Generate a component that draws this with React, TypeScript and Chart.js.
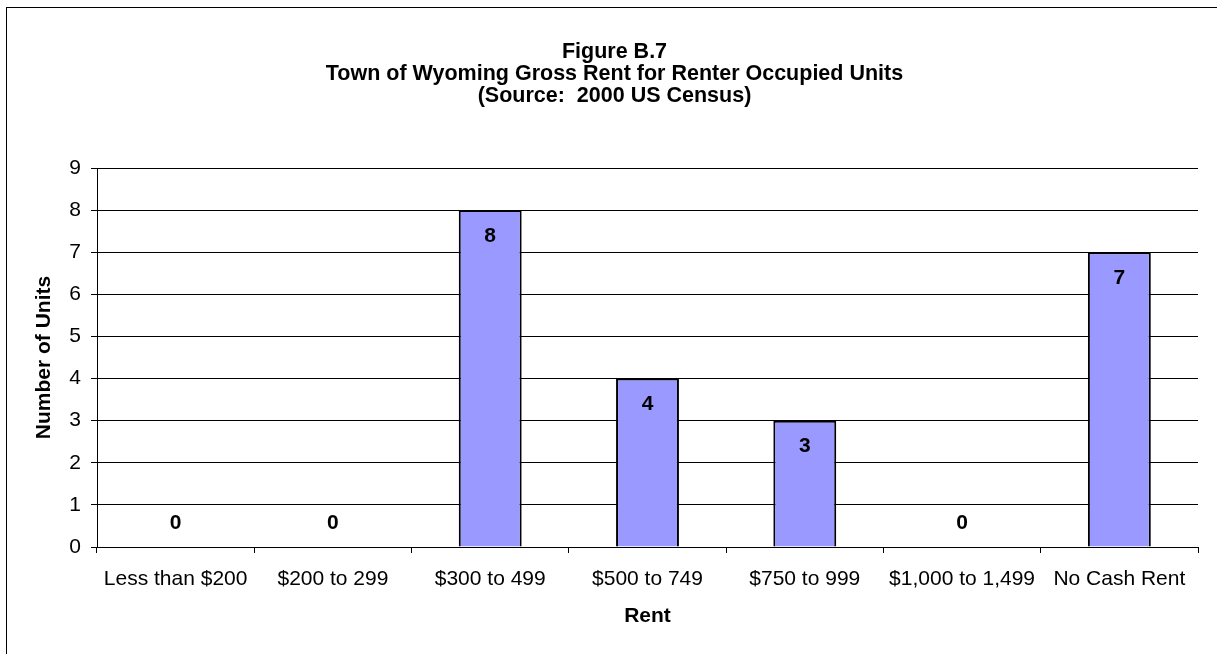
import React, { useEffect, useRef } from "react";
import { Chart, registerables } from "chart.js";

Chart.register(...registerables);

const categories = [
  "Less than $200",
  "$200 to 299",
  "$300 to 499",
  "$500 to 749",
  "$750 to 999",
  "$1,000 to 1,499",
  "No Cash Rent",
];
const units = [0, 0, 8, 4, 3, 0, 7];
const titleLines = [
  "Figure B.7",
  "Town of Wyoming Gross Rent for Renter Occupied Units",
  "(Source:  2000 US Census)",
];
const yAxisTitle = "Number of Units";
const xAxisTitle = "Rent";
const yMin = 0;
const yMax = 9;
const yStep = 1;

const FONT = "'Liberation Sans', Arial, Helvetica, sans-serif";

const titlePlugin = {
  id: "multiTitle",
  afterDraw(chart: any) {
    const ctx = chart.ctx;
    ctx.save();
    ctx.fillStyle = "#000";
    ctx.font = `bold 21.5px ${FONT}`;
    ctx.textAlign = "center";
    ctx.textBaseline = "middle";
    titleLines.forEach((line, i) => {
      ctx.fillText(line, 614.5, 52 + i * 22);
    });
    ctx.restore();
  },
};

const labelPlugin = {
  id: "barLabels",
  afterDatasetsDraw(chart: any) {
    const ctx = chart.ctx;
    const meta = chart.getDatasetMeta(0);
    const yScale = chart.scales.y;
    const base = yScale.getPixelForValue(0);
    ctx.save();
    ctx.fillStyle = "#000";
    ctx.font = `bold 21px ${FONT}`;
    ctx.textAlign = "center";
    ctx.textBaseline = "middle";
    meta.data.forEach((bar: any, i: number) => {
      const v = units[i];
      const y = v > 0 ? bar.y + 26 : base - 24;
      ctx.fillText(String(v), bar.x, y);
    });
    ctx.restore();
  },
};

export default function App() {
  const ref = useRef<HTMLCanvasElement | null>(null);
  useEffect(() => {
    if (!ref.current) return;
    Chart.defaults.font.family = FONT;
    Chart.defaults.color = "#000";
    const chart = new Chart(ref.current, {
      type: "bar",
      data: {
        labels: categories,
        datasets: [
          {
            data: units,
            backgroundColor: "#9999FF",
            borderColor: "#000000",
            borderWidth: 2,
            barPercentage: 0.4,
            categoryPercentage: 1.0,
          },
        ],
      },
      options: {
        responsive: false,
        animation: false,
        layout: { padding: { left: 32, right: 19, top: 168, bottom: 0 } },
        plugins: {
          legend: { display: false },
          title: { display: false },
          tooltip: { enabled: false },
        },
        scales: {
          x: {
            afterFit(scale: any) {
              scale.height = 107;
            },
            grid: {
              display: true,
              drawOnChartArea: false,
              drawTicks: true,
              tickLength: 6,
              color: "#000",
              lineWidth: 1,
            },
            border: { display: true, color: "#000", width: 1 },
            ticks: {
              color: "#000",
              font: { size: 21, family: FONT },
              padding: 14,
              autoSkip: false,
              maxRotation: 0,
              minRotation: 0,
            },
            title: {
              display: true,
              text: xAxisTitle,
              color: "#000",
              font: { size: 21, weight: "bold", family: FONT },
              padding: { top: 0, bottom: 25 },
            },
          },
          y: {
            min: yMin,
            max: yMax,
            afterFit(scale: any) {
              scale.width = 65;
            },
            grid: {
              display: true,
              drawOnChartArea: true,
              drawTicks: true,
              tickLength: 6,
              color: "#000",
              lineWidth: 1,
            },
            border: { display: true, color: "#000", width: 1 },
            ticks: {
              stepSize: yStep,
              color: "#000",
              font: { size: 21, family: FONT },
              padding: 10,
            },
            title: {
              display: true,
              text: yAxisTitle,
              color: "#000",
              font: { size: 21, weight: "bold", family: FONT },
              padding: { top: 0, bottom: 0 },
            },
          },
        },
      },
      plugins: [titlePlugin, labelPlugin],
    } as any);
    return () => chart.destroy();
  }, []);

  return (
    <div
      style={{
        position: "fixed",
        left: 0,
        top: 0,
        width: 1217,
        height: 654,
        overflow: "hidden",
        background: "#fff",
      }}
    >
      <div
        style={{
          position: "absolute",
          left: 6,
          top: 7,
          width: 1400,
          height: 900,
          border: "1px solid #000",
          boxSizing: "border-box",
        }}
      />
      <canvas
        ref={ref}
        width={1217}
        height={654}
        style={{ position: "absolute", left: 0, top: 0, width: 1217, height: 654 }}
      />
    </div>
  );
}
